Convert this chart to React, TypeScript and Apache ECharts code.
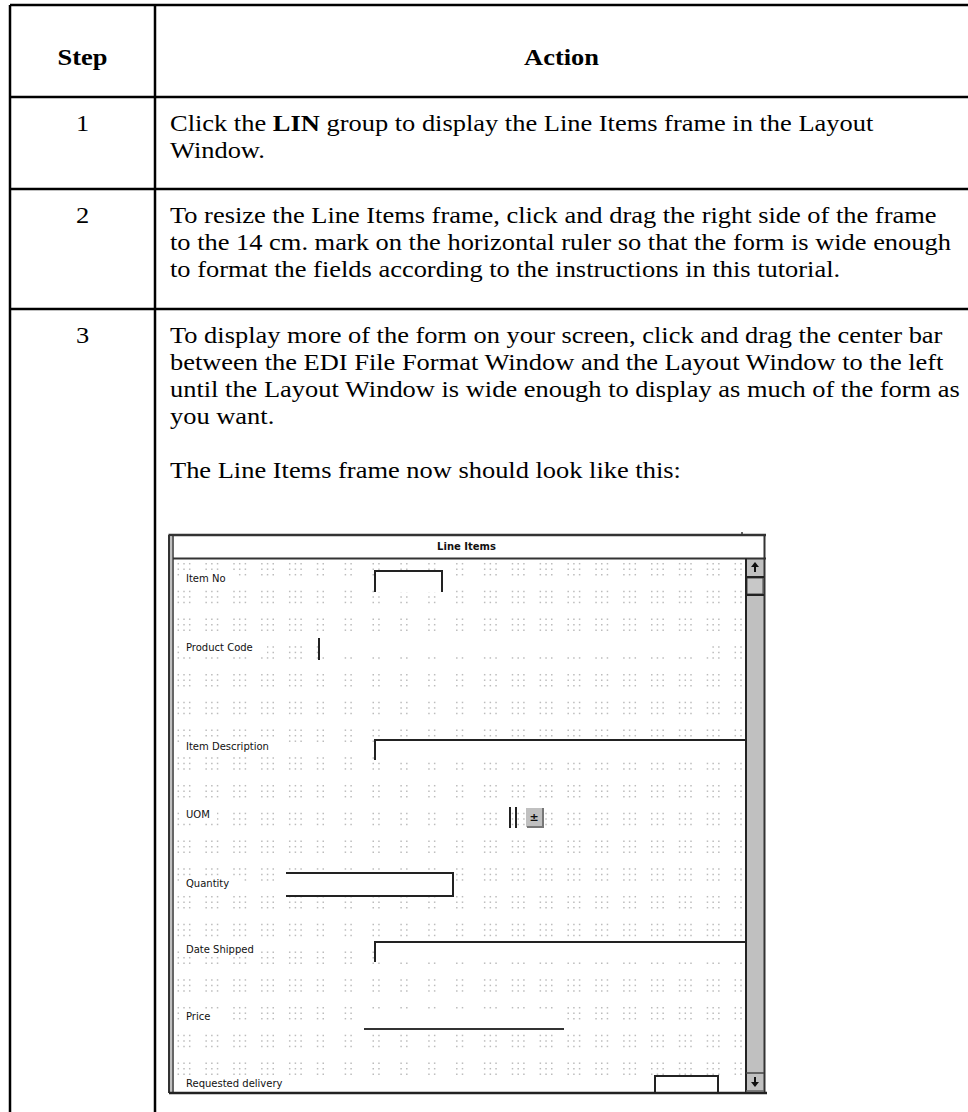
import React, { useEffect, useRef } from "react";
import * as echarts from "echarts";

const HEADERS = ["Step", "Action"];
const STEPS = ["1", "2", "3"];
const ROW1_LINES = [
  "Click the {b|LIN} group to display the Line Items frame in the Layout",
  "Window.",
];
const ROW2_LINES = [
  "To resize the Line Items frame, click and drag the right side of the frame",
  "to the 14 cm. mark on the horizontal ruler so that the form is wide enough",
  "to format the fields according to the instructions in this tutorial.",
];
const ROW3_LINES = [
  "To display more of the form on your screen, click and drag the center bar",
  "between the EDI File Format Window and the Layout Window to the left",
  "until the Layout Window is wide enough to display as much of the form as",
  "you want.",
];
const ROW3_NOTE = "The Line Items frame now should look like this:";
const FRAME_TITLE = "Line Items";
const FIELD_LABELS = [
  "Item No",
  "Product Code",
  "Item Description",
  "UOM",
  "Quantity",
  "Date Shipped",
  "Price",
  "Requested delivery",
];

const SERIF = "Liberation Serif";
const SANS = "DejaVu Sans";
const FS = 23;
const SX = 1.15;
const LH = 27;
const INK = "#222";

function line(x1: number, y1: number, x2: number, y2: number, w = 2, c = INK, z = 10) {
  return { type: "line", z, shape: { x1, y1, x2, y2 }, style: { stroke: c, lineWidth: w } };
}
function rect(x: number, y: number, w: number, h: number, style: any, z = 5) {
  return { type: "rect", z, shape: { x, y, width: w, height: h }, style };
}
function txt(x: number, y: number, text: string, opts: any = {}, z = 20) {
  const style: any = {
    text,
    fontFamily: opts.fontFamily ?? SERIF,
    fontSize: opts.fontSize ?? FS,
    fontWeight: opts.fontWeight ?? "normal",
    fill: opts.fill ?? "#000",
    align: opts.align ?? "left",
    verticalAlign: "middle",
  };
  if (opts.rich) style.rich = opts.rich;
  return { type: "text", z, x, y, scaleX: opts.scaleX ?? SX, style };
}

export default function App() {
  const ref = useRef<HTMLDivElement>(null);
  useEffect(() => {
    if (!ref.current) return;
    const chart = echarts.init(ref.current, null, { renderer: "svg" });
    const g: any[] = [];
    g.push(rect(0, 0, 968, 1112, { fill: "#fff" }, 0));

    // table grid
    const TL = 10, DIV = 155, TR = 968;
    g.push(line(TL, 5, TR, 5, 2.5, "#000"));
    g.push(line(TL, 97, TR, 97, 2.5, "#000"));
    g.push(line(TL, 189, TR, 189, 2.5, "#000"));
    g.push(line(TL, 309, TR, 309, 2.5, "#000"));
    g.push(line(TL, 5, TL, 1112, 2.5, "#000"));
    g.push(line(DIV, 5, DIV, 1112, 2.5, "#000"));

    const stepX = (TL + DIV) / 2;
    const actX = (DIV + TR) / 2;
    g.push(txt(stepX, 57, HEADERS[0], { align: "center", fontWeight: "bold" }));
    g.push(txt(actX, 57, HEADERS[1], { align: "center", fontWeight: "bold" }));

    const TX = 170;
    const rows = [
      { y: 123, lines: ROW1_LINES },
      { y: 215, lines: ROW2_LINES },
      { y: 335, lines: ROW3_LINES },
    ];
    rows.forEach((r, i) => {
      g.push(txt(stepX, r.y, STEPS[i], { align: "center" }));
      r.lines.forEach((l, k) => {
        g.push(
          txt(TX, r.y + k * LH, l, l.indexOf("{b|") >= 0
            ? { rich: { b: { fontWeight: "bold", fontSize: FS, fontFamily: SERIF } } }
            : {})
        );
      });
    });
    g.push(txt(TX, 470, ROW3_NOTE));

    // ---- embedded screenshot ----
    const FL = 169, FR = 765, FT = 535, FB = 1093, TB = 558.5;
    const SBL = 746, SBR = 764;
    g.push(rect(FL, FT, FR - FL, FB - FT, { fill: "#fff" }, 1));

    // dot grid
    const DOT = "#bcbcbc";
    for (let j = 0; j < 19; j++) {
      const cy = 563.7 + j * 27.75;
      for (let i = 0; i < 21; i++) {
        const cx = 178.3 + i * 27.85;
        const cols = i >= 5 && i <= 10 ? 2 : i === 20 ? 2 : 3;
        for (let a = 0; a < cols; a++) {
          for (let b = 0; b < 3; b++) {
            const x = cx + a * 5.7;
            const y = cy + b * 5.5;
            if (y > FB - 4 || x > SBL - 3) continue;
            g.push(rect(x - 0.75, y - 0.75, 1.5, 1.5, { fill: DOT }, 2));
          }
        }
      }
    }

    // white areas (labels and fields)
    const labelY = [578, 647, 746, 814, 883, 949, 1016, 1083];
    const labelW = [46, 78, 90, 28, 54, 72, 34, 100];
    labelY.forEach((y, i) => {
      g.push(rect(183, y - 7, labelW[i] + 6, 14, { fill: "#fff" }, 3));
      g.push(
        txt(186, y, FIELD_LABELS[i], {
          fontFamily: SANS,
          fontSize: 10,
          fill: "#111",
          scaleX: 1,
        }, 21)
      );
    });
    g.push(rect(376, 572, 65, 20, { fill: "#fff" }, 3));
    g.push(rect(321, 638, 388, 19, { fill: "#fff" }, 3));
    g.push(rect(376, 741, SBL - 376, 19, { fill: "#fff" }, 3));
    g.push(rect(287, 874, 165, 21, { fill: "#fff" }, 3));
    g.push(rect(376, 943, SBL - 376, 19, { fill: "#fff" }, 3));
    g.push(rect(358, 1009, 207, 19, { fill: "#fff" }, 3));
    g.push(rect(656, 1077, 61, 15, { fill: "#fff" }, 3));

    // frame border
    g.push(line(FL - 0.5, FT, FR + 1, FT, 2.5, "#333"));
    g.push(line(FL, FT, FL, FB, 2, "#333"));
    g.push(line(FL + 2, FT + 1, FL + 2, FB - 1, 1.5, "#aaa"));
    g.push(line(FL + 4, FT, FL + 4, FB, 1.5, "#333"));
    g.push(line(FR - 0.5, FT, FR - 0.5, FB, 2, "#333"));
    g.push(line(FL, FB, FR + 2, FB, 2.5, "#222"));
    g.push(line(FL + 4, TB, FR + 1, TB, 2, "#333"));
    g.push(line(742, 532, 742, 535, 1.5, "#333"));
    g.push(
      txt((FL + SBR) / 2, 546.5, FRAME_TITLE, {
        fontFamily: SANS,
        fontSize: 10,
        fontWeight: "bold",
        fill: "#111",
        scaleX: 1,
        align: "center",
      })
    );

    // scrollbar
    g.push(rect(SBL, TB, SBR - SBL, FB - TB, { fill: "#c0c0c0" }, 6));
    g.push(line(SBL, TB, SBL, FB, 2, "#222", 11));
    g.push(line(SBL, 577, SBR, 577, 2, "#222", 11));
    g.push(rect(SBL + 1, 578, SBR - SBL - 2, 16, { fill: "#c8c8c8", stroke: "#444", lineWidth: 1 }, 7));
    g.push(line(SBL, 595, SBR, 595, 2, "#222", 11));
    g.push(line(SBL, 1073, SBR, 1073, 1.5, "#444", 11));
    g.push(line(SBL, 1091, SBR, 1091, 1.5, "#666", 11));
    // arrows
    g.push({ type: "polygon", z: 12, shape: { points: [[755, 562], [759, 567], [751, 567]] }, style: { fill: "#111" } });
    g.push(line(755, 566, 755, 572, 2, "#111", 12));
    g.push({ type: "polygon", z: 12, shape: { points: [[755, 1087], [759, 1082], [751, 1082]] }, style: { fill: "#111" } });
    g.push(line(755, 1077, 755, 1083, 2, "#111", 12));

    // fields
    g.push(line(375, 571, 442, 571, 2));
    g.push(line(375, 570, 375, 592, 2));
    g.push(line(442, 570, 442, 592, 2));
    g.push(line(319, 638, 319, 660, 2));
    g.push(line(375, 740, SBL, 740, 2));
    g.push(line(375, 739, 375, 760, 2));
    g.push(line(510, 807, 510, 828, 2));
    g.push(line(516, 807, 516, 828, 2));
    g.push(rect(526, 808, 17, 19, { fill: "#c0c0c0" }, 6));
    g.push(line(527, 827, 544, 827, 2, "#777", 7));
    g.push(line(543, 808, 543, 828, 2, "#777", 7));
    g.push(
      txt(534, 817, "±", {
        fontFamily: SANS,
        fontSize: 11,
        fontWeight: "bold",
        fill: "#111",
        align: "center",
        scaleX: 1,
      })
    );
    g.push(line(286, 873, 453, 873, 2));
    g.push(line(453, 872, 453, 897, 2));
    g.push(line(286, 896, 453, 896, 2));
    g.push(line(375, 942, SBL, 942, 2));
    g.push(line(375, 941, 375, 962, 2));
    g.push(line(364, 1029, 564, 1029, 2, "#333"));
    g.push(line(655, 1076, 718, 1076, 2));
    g.push(line(655, 1075, 655, 1092, 2));
    g.push(line(718, 1075, 718, 1092, 2));

    chart.setOption({ animation: false, graphic: { elements: g } });
    return () => chart.dispose();
  }, []);
  return (
    <div
      ref={ref}
      style={{ position: "absolute", left: 0, top: 0, width: 968, height: 1112, background: "#fff" }}
    />
  );
}
